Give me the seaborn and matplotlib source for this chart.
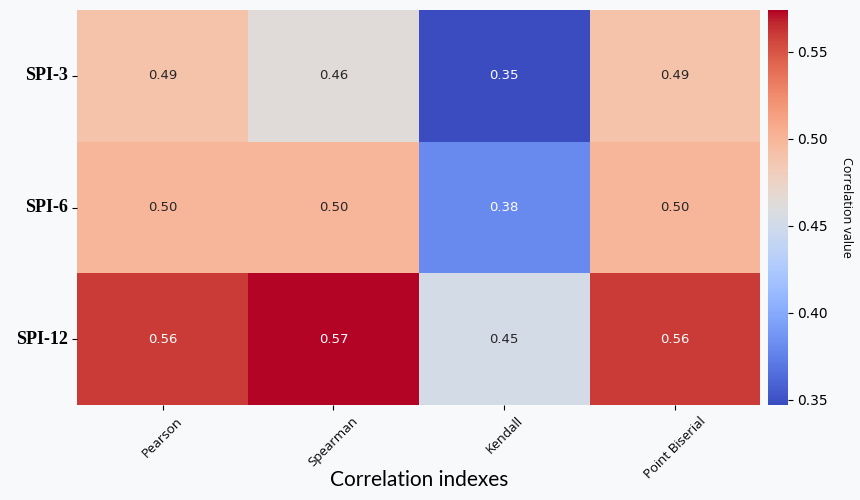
import numpy as np
import pandas as pd
import seaborn as sns
import matplotlib.pyplot as plt

# values
rows = ["SPI-3", "SPI-6", "SPI-12"]
methods = ["Pearson", "Spearman", "Kendall", "Point Biserial"]
spi3 = [0.49, 0.464, 0.347, 0.49]
spi6 = [0.50, 0.50, 0.38, 0.50]
spi12 = [0.56, 0.574, 0.452, 0.56]

corr = pd.DataFrame([spi3, spi6, spi12], index=rows, columns=methods)

bg = "#f8f9fb"
fig = plt.figure(figsize=(8.6, 5), dpi=100, facecolor=bg)
ax = fig.add_axes([0.09, 0.19, 0.794, 0.79])
cax = fig.add_axes([0.893, 0.19, 0.023, 0.79])

sns.heatmap(corr, ax=ax, cbar_ax=cax, cmap="coolwarm", annot=True, fmt=".2f",
            annot_kws={"size": 9.5})

ax.set_xticklabels(methods, rotation=45, fontsize=9.5, family="Open Sans")
ax.set_yticklabels(rows, rotation=0, fontsize=13, family="Liberation Serif",
                   fontweight="bold")
ax.set_xlabel("Correlation indexes", fontsize=15, family="Lato")
ax.xaxis.set_label_coords(0.5, -0.165)
ax.set_ylabel("")

cax.tick_params(labelsize=10)
cax.set_ylabel("Correlation value", rotation=270, labelpad=18, fontsize=9,
               family="Open Sans")

plt.savefig("out.png", dpi=100, facecolor=bg)
